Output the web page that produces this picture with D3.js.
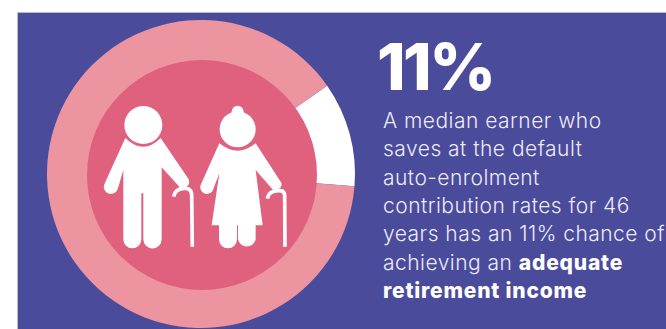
<!DOCTYPE html>
<html>
<head>
<meta charset="utf-8">
<script src="https://cdn.jsdelivr.net/npm/d3@7"></script>
<style>
html,body{margin:0;padding:0;background:#fff;}
svg{display:block;}
</style>
</head>
<body>
<div id="chart"></div>
<script>
// Share of median earners reaching an adequate retirement income
const segmentNames = ["adequate", "inadequate"];
const segmentValues = [11, 89];
const segmentColors = ["#ffffff", "#ec95a0"];
const headline = "11%";
const bodyLines = [
  [["A median earner who", false]],
  [["saves at the default", false]],
  [["auto-enrolment", false]],
  [["contribution rates for 46", false]],
  [["years has an 11% chance of", false]],
  [["achieving an ", false], ["adequate", true]],
  [["retirement income", true]]
];

const width = 666, height = 329;
const svg = d3.select("#chart").append("svg").attr("width", width).attr("height", height);

// Panel with a faint lighter edge
svg.append("rect").attr("x", 17.5).attr("y", 12.5).attr("width", width).attr("height", height)
  .attr("fill", "#4a4b9b").attr("stroke", "#b9b9d8").attr("stroke-width", 1);

// Ring: the highlighted slice opens at about 55 degrees clockwise from north
const cx = 201, cy = 174, outerR = 154, innerR = 115;
const startDeg = 55;
const pie = d3.pie().sort(null)
  .startAngle(startDeg * Math.PI / 180)
  .endAngle((startDeg + 360) * Math.PI / 180);
const arc = d3.arc().innerRadius(innerR - 6).outerRadius(outerR);
const ring = svg.append("g").attr("transform", `translate(${cx},${cy})`);
ring.selectAll("path").data(pie(segmentValues)).join("path")
  .attr("class", (d, i) => segmentNames[i])
  .attr("d", arc)
  .attr("fill", (d, i) => segmentColors[i]);
ring.append("circle").attr("r", innerR).attr("cx", 1).attr("cy", 1).attr("fill", "#e0617d");

// Pictogram of two older people with walking sticks, in a 3x local grid
const people = svg.append("g").attr("transform", "translate(90,90) scale(0.3333)");
const white = "#ffffff";
const cane = d => people.append("path").attr("d", d).attr("fill", "none")
  .attr("stroke", white).attr("stroke-width", 11).attr("stroke-linecap", "butt").attr("stroke-linejoin", "round");

// Man
people.append("circle").attr("cx", 160).attr("cy", 105).attr("r", 57).attr("fill", white);
people.append("path").attr("fill", white).attr("d",
  "M106,144 Q160,196 212,144 L296,268 Q302,282 288,292 Q280,296 268,290 L215,232 L215,448 " +
  "A27,27 0 0 1 160,448 L160,310 L154,310 L154,448 A27,27 0 0 1 100,448 L100,240 " +
  "L84,295 A21,21 0 0 1 42,285 Z");
cane("M307,470 L305,312 Q302,294 285,295 Q256,294 251,320");

// Woman
people.append("circle").attr("cx", 443).attr("cy", 118).attr("r", 54).attr("fill", white);
people.append("circle").attr("cx", 443).attr("cy", 65).attr("r", 18).attr("fill", white);
people.append("path").attr("fill", white).attr("d",
  "M388,160 Q443,204 497,160 L574,278 Q578,290 566,298 Q554,304 546,296 L497,240 L518,406 " +
  "L497,406 L497,448 A27,27 0 0 1 444,448 L444,406 L441,406 L441,448 A27,27 0 0 1 387,448 L387,406 " +
  "L365,406 L388,250 L368,302 A20,20 0 0 1 332,285 Z");
cane("M585,470 L584,314 Q582,300 566,302 Q536,302 532,326");

// Headline and description
const sans = "Inter, 'Open Sans', sans-serif";
svg.append("text").attr("x", 377).attr("y", 90).attr("fill", white)
  .attr("font-family", sans).attr("font-weight", 800).attr("font-size", 65)
  .attr("letter-spacing", -2.6).text(headline);

const body = svg.append("text").attr("font-family", sans).attr("font-size", 21).attr("fill", "#eceaf6");
bodyLines.forEach((runs, i) => {
  const line = body.append("tspan").attr("x", 383).attr("y", 128 + i * 28.33);
  runs.forEach(([t, bold]) => {
    line.append("tspan").attr("font-weight", bold ? 800 : 300)
      .attr("letter-spacing", bold ? 0.8 : 0.48)
      .attr("fill", bold ? white : null).text(t);
  });
});
</script>
</body>
</html>
